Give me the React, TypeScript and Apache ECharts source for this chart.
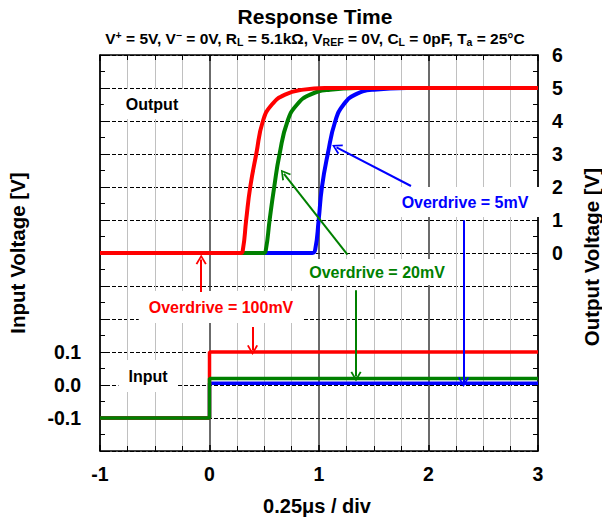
import React, { useEffect, useRef } from 'react';
import * as echarts from 'echarts';

// ---- axis ranges / ticks ----
const X_MIN = -1;
const X_MAX = 3;
const OUT_MIN = -6;
const OUT_MAX = 6;
const IN_MIN = -0.2;
const IN_MAX = 1.0;
const outputTickLabels = ['0', '1', '2', '3', '4', '5', '6'];
const inputTickLabels = ['-0.1', '0.0', '0.1'];

// ---- output voltage curves [time (div), V] ----
const redOutput: [number, number][] = [
  [-1, 0], [0.285, 0], [0.305, 0.1], [0.335, 1], [0.372, 2], [0.427, 3], [0.488, 4],
  [0.57, 4.5], [0.69, 4.8], [0.86, 4.95], [1.05, 5], [3, 5],
];
const greenOutput: [number, number][] = [
  [-1, 0], [0.495, 0], [0.515, 0.1], [0.549, 1], [0.591, 2], [0.64, 3], [0.713, 4],
  [0.8, 4.5], [0.92, 4.8], [1.1, 4.95], [1.35, 5], [3, 5],
];
const blueOutput: [number, number][] = [
  [-1, 0], [0.94, 0], [0.966, 0.12], [0.997, 1], [1.027, 2], [1.08, 3], [1.149, 4],
  [1.225, 4.5], [1.33, 4.8], [1.5, 4.95], [1.8, 5], [3, 5],
];

// ---- input steps [V] ----
const stepTime = 0;
const inputBefore = -0.1;
const redInputAfter = 0.1;
const greenInputAfter = 0.02;
const blueInputAfter = 0.005;

// ---- annotation arrows: [from, to] ----
const blueDiagArrow = [[1.84, 2.03], [1.16, 3.2]];      // output axis
const greenDiagArrow = [[1.26, -0.05], [0.68, 2.4]];    // output axis
const redUpArrow = [[-0.076, -1.18], [-0.076, -0.2]];   // output axis
const redDownArrow = [[0.393, 0.176], [0.393, 0.106]];  // input axis
const greenDownArrow = [[1.338, 0.287], [1.338, 0.026]]; // input axis
const blueDownArrow = [[2.32, 0.499], [2.32, 0.009]];    // input axis

const RED = '#ff0000';
const GREEN = '#008000';
const BLUE = '#0000ff';
const FONT = '"Liberation Sans", Arial, Helvetica, sans-serif';
const ARROW = 'path://M0,9 L5,0 L10,9 L8.5,9.8 L5,3 L1.5,9.8 Z';

const stepData = (after: number): [number, number][] => [
  [X_MIN, inputBefore], [stepTime, inputBefore], [stepTime, after], [X_MAX, after],
];

const arrowLine = (a: number[][]) => [{ coord: a[0] }, { coord: a[1] }];

const markLines = (color: string, arrows: number[][][]) => ({
  silent: true,
  symbol: ['none', ARROW],
  symbolSize: [11, 10],
  label: { show: false },
  emphasis: { disabled: true },
  lineStyle: { color, width: 2, type: 'solid' },
  data: arrows.map(arrowLine),
});

const boxText = (text: string, x: number, y: number, color: string, padding: number[]) => ({
  type: 'text',
  x,
  y,
  z: 1,
  silent: true,
  style: {
    text,
    fill: color,
    font: `bold 16px ${FONT}`,
    align: 'center',
    verticalAlign: 'middle',
    backgroundColor: '#ffffff',
    padding,
  },
});

export default function App() {
  const ref = useRef<HTMLDivElement>(null);
  useEffect(() => {
    if (!ref.current) return;
    const chart = echarts.init(ref.current, null, { renderer: 'svg' });
    const lineSeries = (
      name: string, data: [number, number][], color: string, yAxisIndex: number, width: number, smooth: boolean, ml?: any,
    ) => ({
      name,
      type: 'line',
      data,
      xAxisIndex: 0,
      yAxisIndex,
      symbol: 'none',
      smooth: smooth ? 0.5 : false,
      lineStyle: { color, width },
      itemStyle: { color },
      emphasis: { disabled: true },
      markLine: ml,
    });
    const tickLabel = { fontSize: 19.5, fontWeight: 'bold', color: '#000', fontFamily: FONT };
    chart.setOption({
      animation: false,
      backgroundColor: '#ffffff',
      grid: { left: 100, right: 64, top: 55, bottom: 74, containLabel: false },
      xAxis: [
        {
          type: 'value', min: X_MIN, max: X_MAX, interval: 1, position: 'bottom',
          axisLine: { show: true, onZero: false, lineStyle: { color: '#000', width: 1.5 } },
          axisTick: { show: true, inside: true, length: 6, lineStyle: { color: '#000', width: 1.5 } },
          minorTick: { show: true, splitNumber: 4, length: 5, lineStyle: { color: '#000', width: 1 } },
          axisLabel: { ...tickLabel, margin: 13, formatter: (v: number) => String(v) },
          splitLine: { show: true, lineStyle: { color: '#3a3a3a', width: 1.5 } },
          minorSplitLine: { show: true, lineStyle: { color: '#c0c0c0', width: 1 } },
        },
        {
          type: 'value', min: X_MIN, max: X_MAX, interval: 1, position: 'top',
          axisLine: { show: true, onZero: false, lineStyle: { color: '#000', width: 1.5 } },
          axisTick: { show: true, inside: true, length: 6, lineStyle: { color: '#000', width: 1.5 } },
          minorTick: { show: true, splitNumber: 4, length: 5, lineStyle: { color: '#000', width: 1 } },
          axisLabel: { show: false },
          splitLine: { show: false },
        },
      ],
      yAxis: [
        {
          type: 'value', min: IN_MIN, max: IN_MAX, interval: 0.1, position: 'left',
          axisLine: { show: true, onZero: false, lineStyle: { color: '#000', width: 1.5 } },
          axisTick: { show: true, inside: true, length: 6, lineStyle: { color: '#000', width: 1 } },
          minorTick: { show: true, splitNumber: 2, length: 5, lineStyle: { color: '#000', width: 1 } },
          axisLabel: {
            ...tickLabel, margin: 19,
            formatter: (v: number) => {
              const r = Math.round(v * 10);
              if (r === -1) return inputTickLabels[0];
              if (r === 0) return inputTickLabels[1];
              if (r === 1) return inputTickLabels[2];
              return '';
            },
          },
          splitLine: { show: false },
        },
        {
          type: 'value', min: OUT_MIN, max: OUT_MAX, interval: 1, position: 'right',
          axisLine: { show: true, onZero: false, lineStyle: { color: '#000', width: 1.5 } },
          axisTick: { show: true, inside: true, length: 6, lineStyle: { color: '#000', width: 1 } },
          minorTick: { show: true, splitNumber: 2, length: 5, lineStyle: { color: '#000', width: 1 } },
          axisLabel: {
            ...tickLabel, margin: 14,
            formatter: (v: number) => (v >= 0 ? outputTickLabels[Math.round(v)] : ''),
          },
          splitLine: { show: true, lineStyle: { color: '#000', width: 1, type: [4, 2] } },
        },
      ],
      series: [
        lineSeries('blueIn', stepData(blueInputAfter), BLUE, 0, 3.5, false, markLines(BLUE, [blueDownArrow])),
        lineSeries('redIn', stepData(redInputAfter), RED, 0, 3.5, false, markLines(RED, [redDownArrow])),
        lineSeries('greenIn', stepData(greenInputAfter), GREEN, 0, 3.5, false, markLines(GREEN, [greenDownArrow])),
        lineSeries('blueOut', blueOutput, BLUE, 1, 4, true, markLines(BLUE, [blueDiagArrow])),
        lineSeries('greenOut', greenOutput, GREEN, 1, 4, true, markLines(GREEN, [greenDiagArrow])),
        lineSeries('redOut', redOutput, RED, 1, 4, true, markLines(RED, [redUpArrow])),
      ],
      graphic: [
        {
          type: 'text', x: 315, y: 16, silent: true,
          style: { text: 'Response Time', font: `bold 21px ${FONT}`, fill: '#000', align: 'center', verticalAlign: 'middle' },
        },
        {
          type: 'text', x: 315, y: 38, silent: true,
          style: {
            text: 'V{sup|+} = 5V, V{sup|\u2212} = 0V, R{sub|L} = 5.1k\u03a9, V{sub|REF} = 0V, C{sub|L} = 0pF, T{sub|a} = 25\u00b0C',
            font: `bold 15.5px ${FONT}`, fill: '#000', align: 'center', verticalAlign: 'middle',
            rich: {
              sub: { font: `bold 10.5px ${FONT}`, fill: '#000', padding: [7, 0, 0, 0] },
              sup: { font: `bold 10.5px ${FONT}`, fill: '#000', padding: [0, 0, 7, 0] },
            },
          },
        },
        {
          type: 'text', x: 17, y: 253, rotation: Math.PI / 2, silent: true,
          style: { text: 'Input Voltage [V]', font: `bold 20.5px ${FONT}`, fill: '#000', align: 'center', verticalAlign: 'middle' },
        },
        {
          type: 'text', x: 591, y: 257, rotation: Math.PI / 2, silent: true,
          style: { text: 'Output Voltage [V]', font: `bold 20.5px ${FONT}`, fill: '#000', align: 'center', verticalAlign: 'middle' },
        },
        {
          type: 'text', x: 317, y: 506, silent: true,
          style: { text: '0.25\u03bcs / div', font: `bold 20px ${FONT}`, fill: '#000', align: 'center', verticalAlign: 'middle' },
        },
        boxText('Output', 152, 104, '#000', [7, 22]),
        boxText('Input', 148, 376, '#000', [8, 10]),
        boxText('Overdrive = 100mV', 221, 307, RED, [8, 10]),
        boxText('Overdrive = 20mV', 377, 272, GREEN, [5, 10]),
        boxText('Overdrive = 5mV', 465, 202, BLUE, [7, 12]),
      ],
    });
    return () => chart.dispose();
  }, []);
  return <div ref={ref} style={{ position: 'fixed', left: 0, top: 0, width: 602, height: 525 }} />;
}
